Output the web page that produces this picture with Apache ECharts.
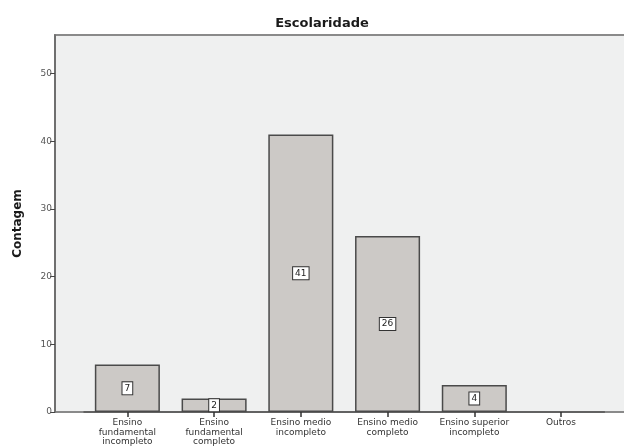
<!DOCTYPE html>
<html>
<head>
<meta charset="utf-8">
<script src="https://cdn.jsdelivr.net/npm/echarts@6/dist/echarts.min.js"></script>
<style>
  html, body { margin: 0; padding: 0; background: #ffffff; }
  #chart { width: 624px; height: 448px; }
</style>
</head>
<body>
<div id="chart"></div>
<script>
// Escolaridade: contagem por nível de ensino
const categories = [
  'Ensino\nfundamental\nincompleto',
  'Ensino\nfundamental\ncompleto',
  'Ensino medio\nincompleto',
  'Ensino medio\ncompleto',
  'Ensino superior\nincompleto',
  'Outros'
];
const counts = [7, 2, 41, 26, 4, 0];
const yTicks = [0, 10, 20, 30, 40, 50];

const FONT = 'DejaVu Sans, Verdana, sans-serif';

// empty categories get no outline and no value box
const barData = counts.map(v => v > 0 ? v : {
  value: v,
  itemStyle: { borderWidth: 0, color: 'rgba(0,0,0,0)' },
  label: { show: false }
});

const chart = echarts.init(document.getElementById('chart'), null, { renderer: 'canvas' });

chart.setOption({
  backgroundColor: '#ffffff',
  animation: false,
  title: {
    text: 'Escolaridade',
    left: 317,
    textAlign: 'center',
    top: 12,
    textStyle: { fontFamily: FONT, fontSize: 13, fontWeight: 'bold', color: '#1a1a1a' }
  },
  // plot frame
  graphic: [{
    type: 'rect',
    z: -10,
    shape: { x: 55, y: 35, width: 575, height: 377 },
    style: { fill: '#eff0f0', stroke: '#8a8a8a', lineWidth: 2 }
  }],
  grid: { left: 84, right: 19.6, top: 35, bottom: 36, containLabel: false },
  xAxis: {
    type: 'category',
    data: categories,
    axisLine: { show: true, lineStyle: { color: '#555', width: 1.5 } },
    axisTick: { show: true, alignWithLabel: true, length: 5, lineStyle: { color: '#333', width: 1.5 } },
    axisLabel: {
      interval: 0,
      margin: 6,
      fontFamily: FONT,
      fontSize: 9,
      lineHeight: 9.5,
      color: '#333'
    },
    splitLine: { show: false }
  },
  yAxis: {
    type: 'value',
    min: 0,
    max: 55.7,
    offset: 29,
    name: 'Contagem',
    nameLocation: 'middle',
    nameRotate: 90,
    nameGap: 31,
    nameTextStyle: { fontFamily: FONT, fontSize: 12, fontWeight: 'bold', color: '#1a1a1a' },
    axisLine: { show: true, lineStyle: { color: '#666', width: 1.5 } },
    axisTick: { show: true, length: 5, customValues: yTicks, lineStyle: { color: '#444' } },
    axisLabel: {
      customValues: yTicks,
      margin: 3,
      fontFamily: FONT,
      fontSize: 9,
      color: '#555'
    },
    splitLine: { show: false }
  },
  series: [{
    type: 'bar',
    data: barData,
    barWidth: '75%',
    itemStyle: { color: '#ccc9c6', borderColor: '#4a4a4a', borderWidth: 1.5 },
    label: {
      show: true,
      position: 'inside',
      fontFamily: FONT,
      fontSize: 9,
      color: '#222',
      backgroundColor: '#ffffff',
      borderColor: '#333',
      borderWidth: 1,
      padding: [2, 2, 1, 2]
    }
  }]
});
</script>
</body>
</html>
